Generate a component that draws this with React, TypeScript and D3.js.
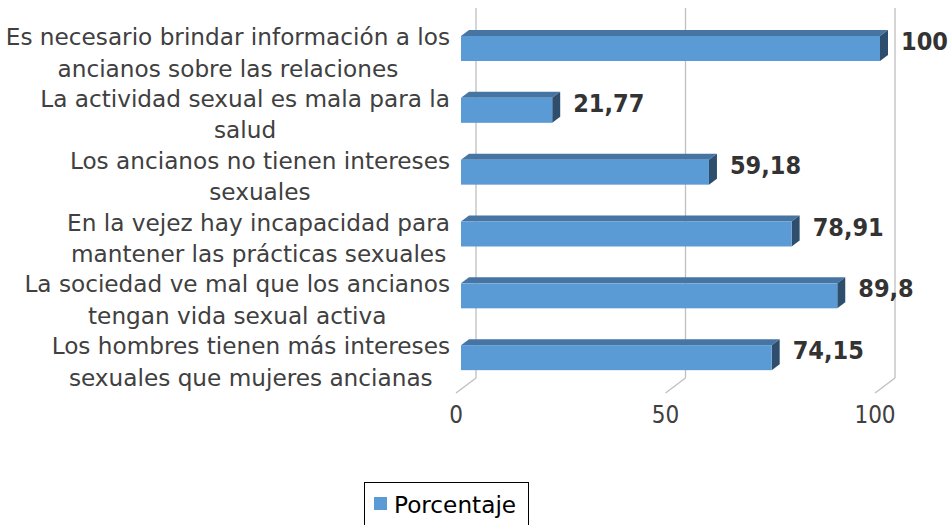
import React from "react";
import * as d3 from "d3";

const categoryLines: string[][] = [
  ["Es necesario brindar información a los", "ancianos sobre las relaciones"],
  ["La actividad sexual es mala para la", "salud"],
  ["Los ancianos no tienen intereses", "sexuales"],
  ["En la vejez hay incapacidad para", "mantener las prácticas sexuales"],
  ["La sociedad ve mal que los ancianos", "tengan vida sexual activa"],
  ["Los hombres tienen más intereses", "sexuales que mujeres ancianas"],
];
const values = [100, 21.77, 59.18, 78.91, 89.8, 74.15];
const valueLabels = ["100", "21,77", "59,18", "78,91", "89,8", "74,15"];
const ticks = [0, 50, 100];
const seriesName = "Porcentaje";

const W = 950;
const H = 525;
const FONT_C = "'DejaVu Sans Condensed', 'DejaVu Sans', sans-serif";
const FONT = "'DejaVu Sans', sans-serif";
const LABEL_SIZE = 23.2;

function measure(text: string, font: string): number {
  const c = document.createElement("canvas").getContext("2d");
  if (!c) return text.length * 11;
  c.font = font;
  return c.measureText(text).width;
}

export default function App() {
  const floorY = 393;
  const depthX = 20;
  const depthY = -15;
  const x = d3.scaleLinear().domain([0, 100]).range([456, 875]);
  const ids = categoryLines.map((_, i) => String(i));
  const y = d3.scaleBand().domain(ids).range([22, floorY]).padding(0);
  const barH = 25;
  const barOff = 14;
  const bx = 5;
  const bdx = 8;
  const bdy = -6;
  const labelRight = 450;
  const labelFont = `${LABEL_SIZE}px 'DejaVu Sans'`;

  return (
    <svg width={W} height={H} style={{ position: "absolute", left: 0, top: 0 }}>
      <rect x={0} y={0} width={W} height={H} fill="#ffffff" />
      {ticks.map((t) => (
        <g key={t}>
          <line x1={x(t) + depthX} x2={x(t) + depthX} y1={8} y2={floorY + depthY} stroke="#BFBFBF" strokeWidth={1.3} />
          <line x1={x(t)} x2={x(t) + depthX} y1={floorY} y2={floorY + depthY} stroke="#BFBFBF" strokeWidth={1.3} />
          <text x={x(t)} y={423} textAnchor="middle" fontFamily={FONT_C} fontSize={24} fill="#404040">
            {t}
          </text>
        </g>
      ))}
      {values.map((v, i) => {
        const top = (y(String(i)) as number) + barOff;
        const x0 = x(0) + bx;
        const x1 = x(v) + bx;
        return (
          <g key={i}>
            <polygon
              points={`${x0},${top} ${x0 + bdx},${top + bdy} ${x1 + bdx},${top + bdy} ${x1},${top}`}
              fill="#4675A3"
            />
            <polygon
              points={`${x1},${top} ${x1 + bdx},${top + bdy} ${x1 + bdx},${top + barH + bdy} ${x1},${top + barH}`}
              fill="#2F4E6E"
            />
            <rect x={x0} y={top} width={x1 - x0} height={barH} fill="#5B9BD5" />
            <text
              x={x1 + bdx + 13}
              y={top + 14}
              fontFamily={FONT_C}
              fontWeight="bold"
              fontSize={25}
              fill="#333333"
            >
              {valueLabels[i]}
            </text>
          </g>
        );
      })}
      {categoryLines.map((lines, i) => {
        const top = (y(String(i)) as number) + barOff;
        const widths = lines.map((l) => measure(l, labelFont));
        const bw = Math.max(...widths);
        const cx = labelRight - bw / 2;
        return (
          <text key={i} fontFamily={FONT} fontSize={LABEL_SIZE} fill="#404040" textAnchor="middle">
            {lines.map((l, j) => (
              <tspan key={j} x={cx} y={top + 9 + j * 31.5}>
                {l}
              </tspan>
            ))}
          </text>
        );
      })}
      <rect x={364.5} y={482.5} width={164} height={50} fill="#ffffff" stroke="#000000" strokeWidth={1} />
      <rect x={374} y={497} width={13} height={13} fill="#5B9BD5" />
      <text x={394} y={513} fontFamily={FONT} fontSize={LABEL_SIZE} fill="#000000">
        {seriesName}
      </text>
    </svg>
  );
}
